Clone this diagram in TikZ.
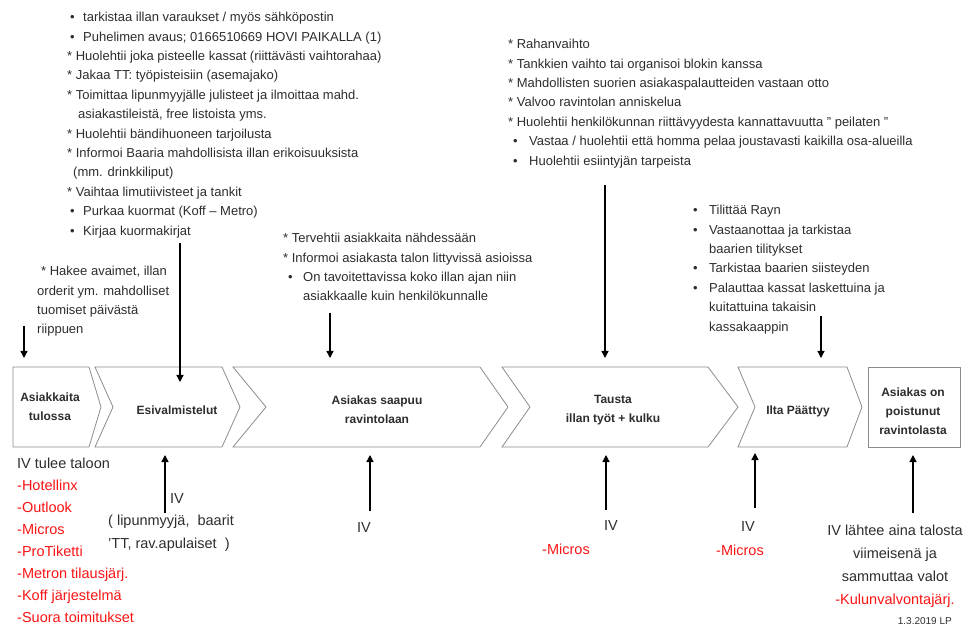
\documentclass[tikz,border=0pt]{standalone}
\usepackage{fontspec}
\setmainfont{Liberation Sans}
\usepackage{tikz}
\usetikzlibrary{arrows.meta}
\definecolor{chevgray}{RGB}{140,140,140}
\definecolor{notegray}{RGB}{45,45,45}
\definecolor{ivred}{RGB}{250,20,20}
\newcommand{\bul}[1][13pt]{\makebox[#1][l]{•}}

\begin{document}
\begin{tikzpicture}[x=1pt, y=-1pt,
    chev/.style={draw=chevgray, fill=white, line width=0.8pt, line join=miter},
    lbl/.style={font=\bfseries\fontsize{12}{19}\selectfont, text=notegray, align=center, inner sep=0pt},
    note/.style={font=\fontsize{13}{19.4}\selectfont, text=notegray, align=left, inner sep=0pt, anchor=north west},
    iv/.style={font=\fontsize{14.5}{22.8}\selectfont, text=notegray, inner sep=0pt},
    arrow/.style={-{Triangle[length=7pt, width=7pt]}, line width=1.3pt}
]
\useasboundingbox (0,0) rectangle (970,628);

% chevrons
\draw[chev] (13,367) -- (89,367) -- (101,407) -- (89,447) -- (13,447) -- cycle;
\draw[chev] (95,367) -- (222,367) -- (240,407) -- (222,447) -- (95,447) -- (113,407) -- cycle;
\draw[chev] (233,367) -- (480,367) -- (508,407) -- (480,447) -- (233,447) -- (266,407) -- cycle;
\draw[chev] (502,367) -- (708,367) -- (738,407) -- (708,447) -- (502,447) -- (530,407) -- cycle;
\draw[chev] (738,367) -- (847,367) -- (862,407) -- (847,447) -- (738,447) -- (755,407) -- cycle;
\draw[chev] (868,367) rectangle (960,447);

\node[lbl] (tulossa) at (50,407) {Asiakkaita\\tulossa};
\node[lbl] (esival) at (177,410) {Esivalmistelut};
\node[lbl] (saapuu) at (377,410) {Asiakas saapuu\\ravintolaan};
\node[lbl] (tausta) at (613,410) {Tausta\\illan työt + kulku};
\node[lbl] (paattyy) at (798,411) {Ilta Päättyy};
\node[lbl] (poistunut) at (913,411) {Asiakas on\\poistunut\\ravintolasta};

% tehtavat ylhaalla
\node[note] (esitehtavat) at (67,12) {%
\hspace*{3pt}\bul tarkistaa illan varaukset / myös sähköpostin\\
\hspace*{3pt}\bul Puhelimen avaus; 0166510669 HOVI PAIKALLA (1)\\
* Huolehtii joka pisteelle kassat (riittävästi vaihtorahaa)\\
* Jakaa TT: työpisteisiin (asemajako)\\
* Toimittaa lipunmyyjälle julisteet ja ilmoittaa mahd.\\
\hspace*{11pt}asiakastileistä, free listoista yms.\\
* Huolehtii bändihuoneen tarjoilusta\\
* Informoi Baaria mahdollisista illan erikoisuuksista\\
\hspace*{6pt}(mm. drinkkiliput)\\
* Vaihtaa limutiivisteet ja tankit\\
\hspace*{3pt}\bul Purkaa kuormat (Koff – Metro)\\
\hspace*{3pt}\bul Kirjaa kuormakirjat};

\node[note] (avaimet) at (37,266) {%
\hspace*{4pt}* Hakee avaimet, illan\\
orderit ym. mahdolliset\\
tuomiset päivästä\\
riippuen};

\node[note] (asiakaspalvelu) at (283,233) {%
* Tervehtii asiakkaita nähdessään\\
* Informoi asiakasta talon littyvissä asioissa\\
\hspace*{5pt}\bul[15pt]On tavoitettavissa koko illan ajan niin\\
\hspace*{20pt}asiakkaalle kuin henkilökunnalle};

\node[note] (vuoro) at (508,39) {%
* Rahanvaihto\\
* Tankkien vaihto tai organisoi blokin kanssa\\
* Mahdollisten suorien asiakaspalautteiden vastaan otto\\
* Valvoo ravintolan anniskelua\\
* Huolehtii henkilökunnan riittävyydesta kannattavuutta " peilaten "\\
\hspace*{5pt}\bul[16pt]Vastaa / huolehtii että homma pelaa joustavasti kaikilla osa-alueilla\\
\hspace*{5pt}\bul[16pt]Huolehtii esiintyjän tarpeista};

\node[note] (tilitys) at (693,205) {%
\bul[16pt]Tilittää Rayn\\
\bul[16pt]Vastaanottaa ja tarkistaa\\
\hspace*{16pt}baarien tilitykset\\
\bul[16pt]Tarkistaa baarien siisteyden\\
\bul[16pt]Palauttaa kassat laskettuina ja\\
\hspace*{16pt}kuitattuina takaisin\\
\hspace*{16pt}kassakaappin};

% IV alhaalla
\node[iv, align=left, anchor=north west, font=\fontsize{14.5}{21.9}\selectfont] (taloon) at (17,458) {%
IV tulee taloon\\
\textcolor{ivred}{-Hotellinx}\\
\textcolor{ivred}{-Outlook}\\
\textcolor{ivred}{-Micros}\\
\textcolor{ivred}{-ProTiketti}\\
\textcolor{ivred}{-Metron tilausjärj.}\\
\textcolor{ivred}{-Koff järjestelmä}\\
\textcolor{ivred}{-Suora toimitukset}};

\node[iv, align=left, anchor=north west] (ivbaarit) at (108,493) {%
\hspace*{62pt}IV\\
( lipunmyyjä,\ \ baarit\\
'TT, rav.apulaiset\ \ )};

\node[iv] (ivsaapuu) at (364,528) {IV};
\node[iv] (ivtausta) at (611,526) {IV};
\node[iv, text=ivred] (microstausta) at (566,549) {-Micros};
\node[iv] (ivpaattyy) at (748,527) {IV};
\node[iv, text=ivred] (microspaattyy) at (740,550) {-Micros};

\node[iv, align=center, anchor=north] (ivlahtee) at (895,525) {%
IV lähtee aina talosta\\
viimeisenä ja\\
sammuttaa valot\\
\textcolor{ivred}{-Kulunvalvontajärj.}};

\node[font=\fontsize{10}{12}\selectfont, text=notegray, inner sep=0pt, anchor=east] (pvm) at (952,621) {1.3.2019 LP};

% nuolet
\coordinate (avaimet-a) at (24,326);   \coordinate (tulossa-a) at (24,358);
\coordinate (esitehtavat-a) at (180,243); \coordinate (esival-a) at (180,382);
\coordinate (asiakaspalvelu-a) at (330,313); \coordinate (saapuu-a) at (330,358);
\coordinate (vuoro-a) at (605,185);   \coordinate (tausta-a) at (605,358);
\coordinate (tilitys-a) at (821,316); \coordinate (paattyy-a) at (821,358);

\coordinate (ivbaarit-b) at (165,513);  \coordinate (esival-b) at (165,455);
\coordinate (ivsaapuu-b) at (370,511);  \coordinate (saapuu-b) at (370,455);
\coordinate (ivtausta-b) at (606,510);  \coordinate (tausta-b) at (606,455);
\coordinate (ivpaattyy-b) at (755,508); \coordinate (paattyy-b) at (755,453);
\coordinate (ivlahtee-b) at (913,513);  \coordinate (poistunut-b) at (913,455);

\draw[arrow] (avaimet-a) -- (tulossa-a);
\draw[arrow] (esitehtavat-a) -- (esival-a);
\draw[arrow] (asiakaspalvelu-a) -- (saapuu-a);
\draw[arrow] (vuoro-a) -- (tausta-a);
\draw[arrow] (tilitys-a) -- (paattyy-a);

\draw[arrow] (ivbaarit-b) -- (esival-b);
\draw[arrow] (ivsaapuu-b) -- (saapuu-b);
\draw[arrow] (ivtausta-b) -- (tausta-b);
\draw[arrow] (ivpaattyy-b) -- (paattyy-b);
\draw[arrow] (ivlahtee-b) -- (poistunut-b);

\end{tikzpicture}
\end{document}
